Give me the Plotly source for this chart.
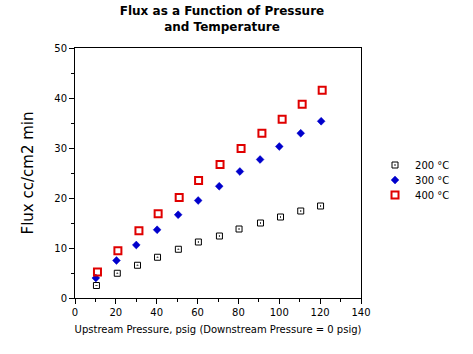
import plotly.graph_objects as go

# Data
x_200 = [10.5, 20.7, 30.6, 40.4, 50.6, 60.4, 70.7, 80.3, 90.8, 100.6, 110.5, 120.2]
y_200 = [2.5, 4.95, 6.55, 8.15, 9.75, 11.2, 12.4, 13.8, 15.0, 16.2, 17.4, 18.4]

x_300 = [10.2, 20.3, 30.0, 40.2, 50.5, 60.3, 70.6, 80.7, 90.6, 100.0, 110.5, 120.5]
y_300 = [4.0, 7.5, 10.6, 13.65, 16.65, 19.5, 22.35, 25.3, 27.7, 30.3, 32.95, 35.35]

x_400 = [11.0, 21.0, 31.3, 40.7, 51.0, 60.5, 71.0, 81.3, 91.5, 101.4, 111.2, 121.0]
y_400 = [5.2, 9.45, 13.45, 16.85, 20.1, 23.5, 26.7, 29.9, 32.95, 35.75, 38.75, 41.55]

names = ["200 °C", "300 °C", "400 °C"]

FONT = "DejaVu Sans"

fig = go.Figure()
fig.add_trace(go.Scatter(
    x=x_200, y=y_200, mode="markers", name=names[0], legend="legend",
    marker=dict(symbol="square-open-dot", size=6, color="black",
                line=dict(width=1, color="black"))))
fig.add_trace(go.Scatter(
    x=x_300, y=y_300, mode="markers", name=names[1], legend="legend2",
    marker=dict(symbol="diamond", size=6, color="#0000CC",
                line=dict(width=0.5, color="#0000CC"))))
fig.add_trace(go.Scatter(
    x=x_400, y=y_400, mode="markers", name=names[2], legend="legend3",
    marker=dict(symbol="square-open", size=7, color="#E00000",
                line=dict(width=2, color="#E00000"))))

axis_common = dict(
    showline=True, linecolor="black", linewidth=1, mirror=True,
    showgrid=False, zeroline=False, ticks="outside", ticklen=5,
    tickcolor="black", tickwidth=1,
    tickfont=dict(family=FONT, size=10, color="black"),
)

PLOT_TOP, PLOT_BOTTOM = 48, 298


def legend_at(row_y_px):
    return dict(x=1.049, xanchor="left",
                y=(PLOT_BOTTOM - row_y_px) / (PLOT_BOTTOM - PLOT_TOP), yanchor="middle",
                font=dict(family=FONT, size=10, color="black"),
                bgcolor="rgba(0,0,0,0)")


fig.update_layout(
    width=473, height=354,
    margin=dict(l=75, r=112, t=48, b=56),
    paper_bgcolor="white", plot_bgcolor="white",
    title=dict(text="<b>Flux as a Function of Pressure<br>and Temperature</b>",
               x=222 / 473, xanchor="center",
               yref="container", y=(354 - 15) / 354, yanchor="middle",
               font=dict(family=FONT, size=12, color="black")),
    xaxis=dict(range=[0, 140], tick0=0, dtick=20,
               minor=dict(dtick=10, ticks="outside", ticklen=3, tickcolor="black"),
               title=dict(text="Upstream Pressure, psig (Downstream Pressure = 0 psig)",
                          font=dict(family=FONT, size=10, color="black"), standoff=8),
               **axis_common),
    yaxis=dict(range=[0, 50], tick0=0, dtick=10,
               minor=dict(dtick=5, ticks="outside", ticklen=3, tickcolor="black"),
               title=dict(text="Flux cc/cm2 min",
                          font=dict(family=FONT, size=15, color="black"), standoff=17),
               **axis_common),
    legend=legend_at(165),
    legend2=legend_at(180),
    legend3=legend_at(195),
    showlegend=True,
)

fig.write_html("out.html")
